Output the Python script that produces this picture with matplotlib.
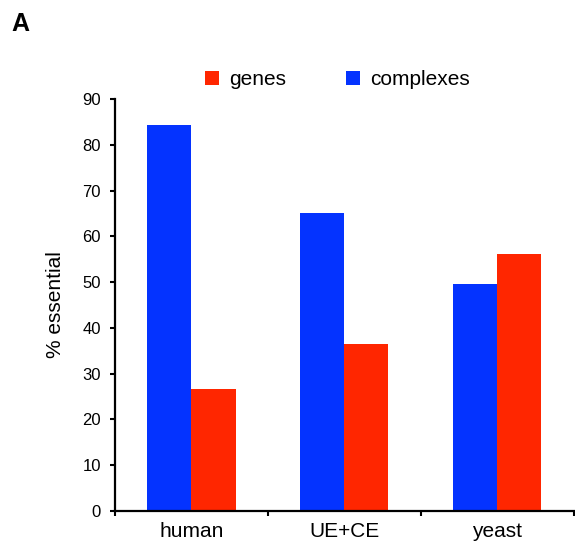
import numpy as np
import matplotlib
matplotlib.use("Agg")
import matplotlib.pyplot as plt

plt.rcParams["font.family"] = ["Liberation Sans", "DejaVu Sans"]

categories = ["human", "UE+CE", "yeast"]
complexes = [84.3, 65.1, 49.5]
genes = [26.7, 36.5, 56.1]

BLUE = "#0433FF"
RED = "#FF2600"

fig = plt.figure(figsize=(5.75, 5.44), dpi=100)
ax = fig.add_axes([0.2, 0.0607, 0.798, 0.7573])

x = np.arange(len(categories)) + 0.5
w = 0.288
ax.bar(x - w / 2, complexes, width=w, color=BLUE, label="complexes")
ax.bar(x + w / 2, genes, width=w, color=RED, label="genes")

ax.set_xlim(0, 3)
ax.set_ylim(0, 90)
ax.set_yticks(range(0, 91, 10))
ax.tick_params(axis="y", labelsize=12, width=1.5, length=3.5, pad=6.5)

# category labels sit between boundary ticks
ax.set_xticks([0, 1, 2, 3])
ax.set_xticklabels([])
ax.tick_params(axis="x", width=1.5, length=3.5)
for xi, name in zip(x, categories):
    ax.text(xi, -2.4, name, ha="center", va="top", fontsize=15)

for s in ("top", "right"):
    ax.spines[s].set_visible(False)
for s in ("left", "bottom"):
    ax.spines[s].set_linewidth(1.6)

ax.set_ylabel("% essential", fontsize=15)
ax.yaxis.set_label_coords(-0.108, 0.5)

h, l = ax.get_legend_handles_labels()
fig.legend(h[::-1], l[::-1], loc="center", bbox_to_anchor=(0.587, 0.853),
           ncol=2, frameon=False, fontsize=15, handlelength=0.65,
           handleheight=0.65, handletextpad=0.5, columnspacing=2.9)

fig.text(0.02, 0.955, "A", fontsize=18, fontweight="bold", va="center")

fig.savefig("out.png", dpi=100)
